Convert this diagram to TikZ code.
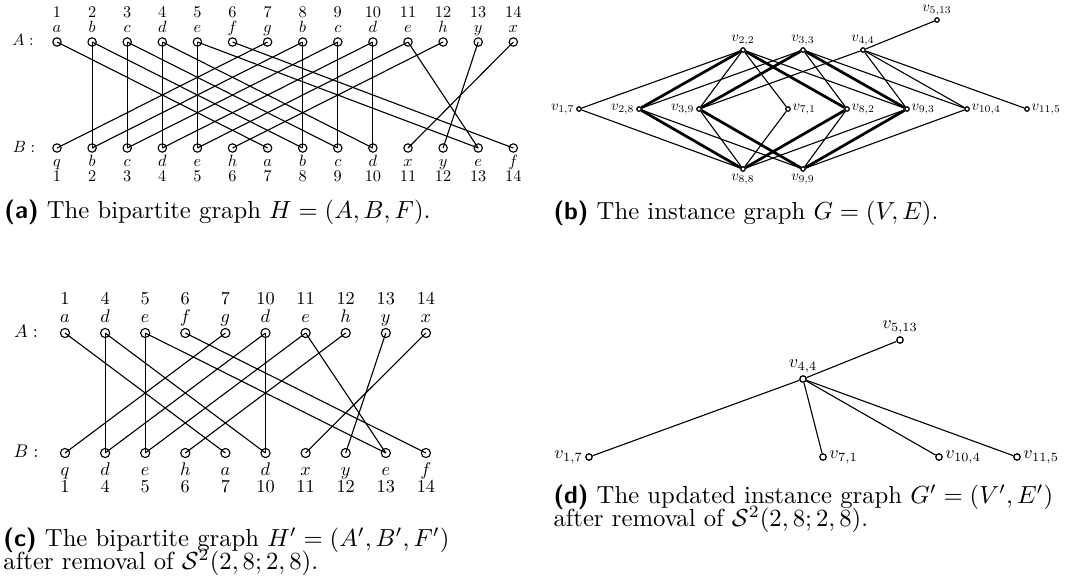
\documentclass[tikz,border=0pt]{standalone}
\usepackage{amsmath}
\usepackage{amssymb}
\usepackage{xcolor}
\usepackage{tikz}
\usetikzlibrary{positioning}

\begin{document}
\begin{tikzpicture}[
  x=0.405pt, y=-0.405pt,
  vtx/.style={draw, circle, inner sep=0pt, minimum size=3.4pt, line width=0.45pt},
  cvtx/.style={vtx, minimum size=3.7pt},
  gvtx/.style={draw, circle, inner sep=0pt, minimum size=1.8pt, line width=0.5pt},
  dvtx/.style={draw, circle, inner sep=0pt, minimum size=2.6pt, line width=0.5pt},
  edge/.style={line width=0.45pt},
  heavy/.style={line width=1.1pt},
  lblA/.style={font=\normalsize, scale=0.66, anchor=base, inner sep=0pt},
  lblC/.style={font=\normalsize, scale=0.74, anchor=base, inner sep=0pt},
  glbl/.style={font=\normalsize, scale=0.6, inner sep=1pt},
  dlbl/.style={font=\normalsize, scale=0.73, inner sep=1.2pt},
  captext/.style={anchor=base west, inner sep=0pt, font=\normalsize}
]
\useasboundingbox (0,0) rectangle (1065,579);

% (a) bipartite graph H
\node[lblA] (sideA) at (23,45) {$A:$};
\node[lblA] (sideB) at (24,152) {$B:$};
\foreach \i/\a/\b in {1/a/q, 2/b/b, 3/c/c, 4/d/d, 5/e/e, 6/f/h, 7/g/a,
                      8/b/b, 9/c/c, 10/d/d, 11/e/x, 12/h/y, 13/y/e, 14/x/f} {
  \node[vtx] (ha\i) at ({57+35.1*(\i-1)},42) {};
  \node[vtx] (hb\i) at ({57+35.1*(\i-1)},148) {};
  \node[lblA] (hna\i) at ({57+35.1*(\i-1)},17) {\i};
  \node[lblA] (hla\i) at ({57+35.1*(\i-1)},32) {$\a$};
  \node[lblA] (hlb\i) at ({57+35.1*(\i-1)},166) {$\b$};
  \node[lblA] (hnb\i) at ({57+35.1*(\i-1)},181) {\i};
}
\foreach \s/\t in {1/7, 2/2, 2/8, 8/2, 8/8, 3/3, 3/9, 9/3, 9/9, 4/4, 4/10, 10/4,
                   10/10, 5/5, 5/13, 11/5, 11/13, 6/14, 7/1, 12/6, 13/12, 14/11}
  \draw[edge] (ha\s.center) -- (hb\t.center);

\node[captext] (capa) at (4,218) {\textsf{\textbf{(a)}} The bipartite graph $H = (A, B, F)$.};

% (b) instance graph G
\node[gvtx, label={[glbl]left:$v_{1,7}$}]   (g17)  at (579,109) {};
\node[gvtx, label={[glbl]left:$v_{2,8}$}]   (g28)  at (639,109) {};
\node[gvtx, label={[glbl]left:$v_{3,9}$}]   (g39)  at (699,109) {};
\node[gvtx, label={[glbl]right:$v_{7,1}$}]  (g71)  at (788,109) {};
\node[gvtx, label={[glbl]right:$v_{8,2}$}]  (g82)  at (847,109) {};
\node[gvtx, label={[glbl]right:$v_{9,3}$}]  (g93)  at (907,109) {};
\node[gvtx, label={[glbl]right:$v_{10,4}$}] (g104) at (967,109) {};
\node[gvtx, label={[glbl]right:$v_{11,5}$}] (g115) at (1027,109) {};
\node[gvtx, label={[glbl]above:$v_{2,2}$}]  (g22)  at (743,50) {};
\node[gvtx, label={[glbl]above:$v_{3,3}$}]  (g33)  at (803,50) {};
\node[gvtx, label={[glbl]above:$v_{4,4}$}]  (g44)  at (863,50) {};
\node[gvtx, label={[glbl]above:$v_{5,13}$}] (g513) at (937,20) {};
\node[gvtx, label={[glbl]below:$v_{8,8}$}]  (g88)  at (743,169) {};
\node[gvtx, label={[glbl]below:$v_{9,9}$}]  (g99)  at (803,169) {};

\foreach \s/\t in {17/22, 17/88, 28/33, 28/99, 39/22, 39/88, 39/44, 71/22, 71/88,
                   82/33, 82/99, 93/22, 93/88, 93/44, 104/33, 104/44, 104/99,
                   115/44, 513/44}
  \draw[edge] (g\s) -- (g\t);
\foreach \s/\t in {22/28, 22/82, 88/28, 88/82, 33/39, 33/93, 99/39, 99/93}
  \draw[heavy] (g\s) -- (g\t);

\node[captext] (capb) at (553,219) {\textsf{\textbf{(b)}} The instance graph $G = (V, E)$.};

% (c) bipartite graph H'
\node[lblC] (sideA') at (26,337) {$A:$};
\node[lblC] (sideB') at (26,457) {$B:$};
\foreach \k/\n/\a/\b in {1/1/a/q, 2/4/d/d, 3/5/e/e, 4/6/f/h, 5/7/g/a,
                         6/10/d/d, 7/11/e/x, 8/12/h/y, 9/13/y/e, 10/14/x/f} {
  \node[cvtx] (ca\n) at ({65+40.1*(\k-1)},333) {};
  \node[cvtx] (cb\n) at ({65+40.1*(\k-1)},453) {};
  \node[lblC] (cna\n) at ({65+40.1*(\k-1)},304) {\n};
  \node[lblC] (cla\n) at ({65+40.1*(\k-1)},322) {$\a$};
  \node[lblC] (clb\n) at ({65+40.1*(\k-1)},475) {$\b$};
  \node[lblC] (cnb\n) at ({65+40.1*(\k-1)},492) {\n};
}
\foreach \s/\t in {1/7, 4/4, 4/10, 10/4, 10/10, 5/5, 5/13, 11/5, 11/13,
                   6/14, 7/1, 12/6, 13/12, 14/11}
  \draw[edge] (ca\s.center) -- (cb\t.center);

\node[captext] (capc) at (3,546) {\textsf{\textbf{(c)}} The bipartite graph $H' = (A', B', F')$};
\node[captext] (capc2) at (3,569) {after removal of $\mathcal{S}^2(2,8;2,8)$.};

% (d) updated instance graph G'
\node[dvtx, label={[dlbl]above:$v_{5,13}$}] (d513) at (900,340) {};
\node[dvtx, label={[dlbl]above:$v_{4,4}$}]  (d44)  at (803,379) {};
\node[dvtx, label={[dlbl]left:$v_{1,7}$}]   (d17)  at (589,457) {};
\node[dvtx, label={[dlbl]right:$v_{7,1}$}]  (d71)  at (823,457) {};
\node[dvtx, label={[dlbl]right:$v_{10,4}$}] (d104) at (939,457) {};
\node[dvtx, label={[dlbl]right:$v_{11,5}$}] (d115) at (1017,457) {};
\foreach \t in {513, 17, 71, 104, 115}
  \draw[edge] (d44) -- (d\t);

\node[captext] (capd) at (553,503) {\textsf{\textbf{(d)}} The updated instance graph $G' = (V', E')$};
\node[captext] (capd2) at (553,526) {after removal of $\mathcal{S}^2(2,8;2,8)$.};
\end{tikzpicture}
\end{document}
